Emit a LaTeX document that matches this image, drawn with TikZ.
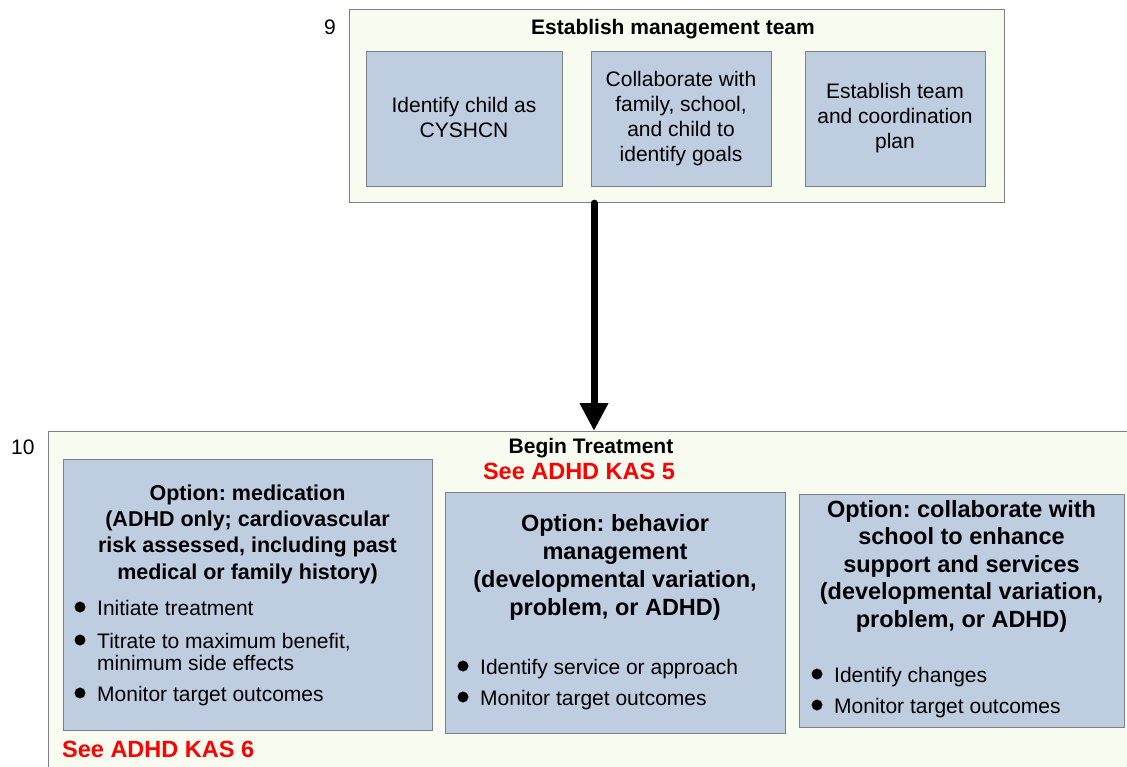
\documentclass[tikz,border=0pt]{standalone}
\usepackage{fontspec}
\setmainfont{Liberation Sans}
\frenchspacing
\usetikzlibrary{arrows.meta}
\definecolor{outerfill}{HTML}{F8FBEF}
\definecolor{innerfill}{HTML}{BFCDE1}
\definecolor{edgegray}{HTML}{808080}
\definecolor{kasred}{HTML}{FF0000}
\tikzset{
  panel/.style={draw=edgegray, line width=1.2pt, fill=outerfill, anchor=north west, inner sep=0pt},
  card/.style={draw=edgegray, line width=1.2pt, fill=innerfill, anchor=north west, inner sep=0pt},
  plain/.style={inner sep=0pt, anchor=base, align=center, font=\fontsize{21}{25}\selectfont},
  numlabel/.style={inner sep=0pt, anchor=base west, font=\fontsize{21}{25}\selectfont},
  headA/.style={inner sep=0pt, anchor=base, align=center, font=\bfseries\fontsize{21.5}{26.3}\selectfont},
  headB/.style={inner sep=0pt, anchor=base, align=center, font=\bfseries\fontsize{23.5}{28}\selectfont},
  headC/.style={inner sep=0pt, anchor=base, align=center, font=\bfseries\fontsize{23.5}{27.5}\selectfont},
  maintitle/.style={inner sep=0pt, anchor=base, font=\bfseries\fontsize{21}{25}\selectfont},
  kas/.style={inner sep=0pt, text=kasred, font=\bfseries\fontsize{23.5}{28}\selectfont},
  item/.style={inner sep=0pt, anchor=base west, align=left, font=\fontsize{21}{22}\selectfont},
  dot/.style={circle, fill=black, inner sep=0pt, minimum size=11pt},
  flow/.style={line width=7pt, line cap=round, -{Triangle[width=27pt,length=28pt]}}
}
\begin{document}
\begin{tikzpicture}[x=1pt,y=-1pt]
\clip (0,0) rectangle (1127,767);
\fill[white] (0,0) rectangle (1127,767);

% ---- Step 9 ----
\node[panel, minimum width=655pt, minimum height=193pt] (mgmt) at (349,9) {};
\node[numlabel] (n9) at (324,35) {9};
\node[maintitle] (mgmtT) at (673,35) {Establish management team};
\node[card, minimum width=196pt, minimum height=135pt] (c1) at (366,51) {};
\node[card, minimum width=180pt, minimum height=135pt] (c2) at (591,51) {};
\node[card, minimum width=180pt, minimum height=135pt] (c3) at (805,51) {};
\node[plain] (c1t) at (464,138) {Identify child as\\CYSHCN};
\node[plain] (c2t) at (681,162) {Collaborate with\\family, school,\\and child to\\identify goals};
\node[plain] (c3t) at (895,149) {Establish team\\and coordination\\plan};

% ---- Step 10 ----
\node[panel, minimum width=1100pt, minimum height=400pt] (treat) at (48,431) {};
\node[numlabel] (n10) at (11,454) {10};
\node[maintitle] (treatT) at (591,453) {Begin Treatment};
\node[kas, anchor=base] (kas5) at (579,479) {See ADHD KAS 5};

% Option A
\node[card, minimum width=369pt, minimum height=271pt] (oa) at (63,459) {};
\node[headA] (oaT) at (247.5,579) {Option: medication\\(ADHD only; cardiovascular\\risk assessed, including past\\medical or family history)};
\node[dot] (oad1) at (80,607) {};
\node[item] (oai1) at (97,615) {Initiate treatment};
\node[dot] (oad2) at (80,640) {};
\node[item] (oai2) at (97,670) {Titrate to maximum benefit,\\minimum side effects};
\node[dot] (oad3) at (80,693) {};
\node[item] (oai3) at (97,701) {Monitor target outcomes};

% Option B
\node[card, minimum width=340pt, minimum height=241pt] (ob) at (445,492) {};
\node[headB] (obT) at (615,615) {Option: behavior\\management\\(developmental variation,\\problem, or ADHD)};
\node[dot] (obd1) at (463,666) {};
\node[item] (obi1) at (480,674) {Identify service or approach};
\node[dot] (obd2) at (463,697) {};
\node[item] (obi2) at (480,705) {Monitor target outcomes};

% Option C
\node[card, minimum width=325pt, minimum height=233pt] (oc) at (799,494) {};
\node[headC] (ocT) at (961.5,627) {Option: collaborate with\\school to enhance\\support and services\\(developmental variation,\\problem, or ADHD)};
\node[dot] (ocd1) at (817,674) {};
\node[item] (oci1) at (834,682) {Identify changes};
\node[dot] (ocd2) at (817,705) {};
\node[item] (oci2) at (834,713) {Monitor target outcomes};

\node[kas, anchor=base west] (kas6) at (62,757) {See ADHD KAS 6};

% connector
\coordinate (ax) at (594,0);
\draw[flow] (mgmt.south -| ax) -- (treat.north -| ax);
\end{tikzpicture}
\end{document}
